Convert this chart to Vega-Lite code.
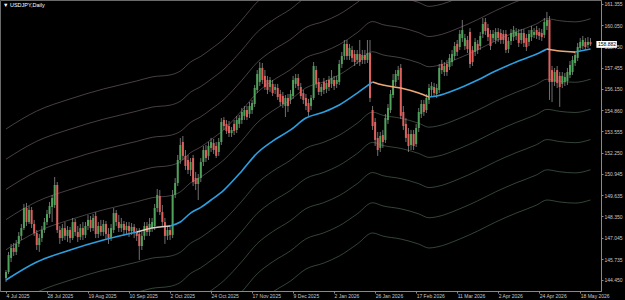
{
"$schema": "https://vega.github.io/schema/vega-lite/v6.json",
"width": 601, "height": 291, "autosize": "none", "padding": {"left": 0, "top": 0, "right": 24, "bottom": 9},
"background": "#000000",
"title": {"text": "▼ USDJPY,Daily", "anchor": "start", "frame": "group", "orient": "top", "offset": -8, "dx": 3, "fontSize": 5.5, "fontWeight": "normal", "font": "Liberation Sans", "color": "#ffffff"},
"datasets": {
"candles": [
{"i":0,"o":144.57,"h":145.06,"l":144.33,"c":144.94},
{"i":1,"o":144.94,"h":146.17,"l":144.82,"c":145.98},
{"i":2,"o":145.80,"h":146.66,"l":145.55,"c":146.41},
{"i":3,"o":146.41,"h":146.72,"l":145.92,"c":146.17},
{"i":4,"o":146.17,"h":146.90,"l":145.98,"c":146.66},
{"i":5,"o":146.66,"h":147.39,"l":146.47,"c":147.15},
{"i":6,"o":147.15,"h":147.88,"l":146.90,"c":147.63},
{"i":7,"o":147.63,"h":149.11,"l":147.51,"c":148.86},
{"i":8,"o":148.86,"h":149.17,"l":147.76,"c":148.00},
{"i":9,"o":148.00,"h":148.98,"l":147.88,"c":148.74},
{"i":10,"o":148.74,"h":148.92,"l":147.63,"c":147.88},
{"i":11,"o":147.88,"h":148.13,"l":147.15,"c":147.33},
{"i":12,"o":147.33,"h":147.51,"l":146.29,"c":146.59},
{"i":13,"o":146.59,"h":147.27,"l":146.17,"c":147.02},
{"i":14,"o":147.02,"h":147.76,"l":146.78,"c":147.51},
{"i":15,"o":147.51,"h":148.25,"l":147.33,"c":148.00},
{"i":16,"o":148.00,"h":148.74,"l":147.82,"c":148.49},
{"i":17,"o":148.49,"h":149.23,"l":148.25,"c":148.98},
{"i":18,"o":148.92,"h":149.66,"l":148.00,"c":149.47},
{"i":19,"o":149.04,"h":150.76,"l":148.86,"c":150.27},
{"i":20,"o":150.27,"h":150.45,"l":147.33,"c":147.51},
{"i":21,"o":147.51,"h":147.76,"l":146.66,"c":147.02},
{"i":22,"o":147.02,"h":147.88,"l":146.84,"c":147.63},
{"i":23,"o":147.63,"h":148.00,"l":146.90,"c":147.15},
{"i":24,"o":147.15,"h":147.76,"l":146.78,"c":147.51},
{"i":25,"o":147.51,"h":147.70,"l":146.72,"c":147.02},
{"i":26,"o":147.02,"h":148.25,"l":146.90,"c":148.00},
{"i":27,"o":148.00,"h":148.19,"l":147.15,"c":147.39},
{"i":28,"o":147.39,"h":147.76,"l":146.78,"c":147.08},
{"i":29,"o":147.08,"h":147.88,"l":146.90,"c":147.63},
{"i":30,"o":147.63,"h":148.00,"l":146.90,"c":147.21},
{"i":31,"o":147.21,"h":148.00,"l":147.02,"c":147.76},
{"i":32,"o":147.76,"h":148.43,"l":147.51,"c":148.13},
{"i":33,"o":148.13,"h":148.37,"l":147.39,"c":147.63},
{"i":34,"o":147.63,"h":148.49,"l":147.45,"c":148.25},
{"i":35,"o":148.37,"h":148.61,"l":147.02,"c":147.27},
{"i":36,"o":147.27,"h":148.00,"l":147.02,"c":147.76},
{"i":37,"o":147.76,"h":148.13,"l":147.15,"c":147.39},
{"i":38,"o":147.39,"h":148.13,"l":147.15,"c":147.88},
{"i":39,"o":147.88,"h":148.06,"l":146.90,"c":147.27},
{"i":40,"o":147.27,"h":147.63,"l":146.66,"c":147.02},
{"i":41,"o":147.02,"h":147.88,"l":146.84,"c":147.63},
{"i":42,"o":147.51,"h":148.86,"l":147.33,"c":148.55},
{"i":43,"o":148.55,"h":148.74,"l":147.76,"c":148.00},
{"i":44,"o":148.00,"h":148.43,"l":147.39,"c":147.63},
{"i":45,"o":147.63,"h":148.25,"l":147.39,"c":147.88},
{"i":46,"o":147.88,"h":148.06,"l":147.15,"c":147.51},
{"i":47,"o":147.51,"h":148.00,"l":147.27,"c":147.76},
{"i":48,"o":147.76,"h":148.00,"l":147.08,"c":147.45},
{"i":49,"o":147.45,"h":147.94,"l":147.21,"c":147.70},
{"i":50,"o":147.70,"h":147.88,"l":147.02,"c":147.39},
{"i":51,"o":147.39,"h":147.63,"l":146.84,"c":147.15},
{"i":52,"o":147.27,"h":147.63,"l":145.68,"c":146.53},
{"i":53,"o":146.53,"h":147.39,"l":146.29,"c":147.15},
{"i":54,"o":147.15,"h":148.00,"l":146.90,"c":147.76},
{"i":55,"o":147.76,"h":148.00,"l":147.15,"c":147.39},
{"i":56,"o":147.39,"h":148.25,"l":147.15,"c":147.88},
{"i":57,"o":147.63,"h":148.25,"l":147.39,"c":148.00},
{"i":58,"o":147.76,"h":149.11,"l":147.51,"c":148.86},
{"i":59,"o":148.86,"h":150.02,"l":148.61,"c":149.66},
{"i":60,"o":149.60,"h":149.96,"l":148.43,"c":148.61},
{"i":61,"o":148.61,"h":149.04,"l":147.76,"c":148.00},
{"i":62,"o":148.00,"h":148.25,"l":146.66,"c":147.15},
{"i":63,"o":147.15,"h":147.76,"l":146.90,"c":147.51},
{"i":64,"o":147.51,"h":147.82,"l":146.90,"c":147.21},
{"i":65,"o":147.21,"h":149.96,"l":147.02,"c":149.66},
{"i":66,"o":149.66,"h":150.70,"l":149.47,"c":150.39},
{"i":67,"o":150.39,"h":152.11,"l":150.21,"c":151.80},
{"i":68,"o":151.80,"h":153.15,"l":151.56,"c":152.72},
{"i":69,"o":152.90,"h":153.27,"l":151.80,"c":152.05},
{"i":70,"o":152.05,"h":152.41,"l":151.19,"c":151.43},
{"i":71,"o":151.80,"h":152.11,"l":150.94,"c":151.19},
{"i":72,"o":151.19,"h":151.92,"l":150.82,"c":151.68},
{"i":73,"o":151.92,"h":152.11,"l":150.21,"c":150.45},
{"i":74,"o":150.70,"h":151.07,"l":149.96,"c":150.33},
{"i":75,"o":150.33,"h":150.94,"l":149.35,"c":150.70},
{"i":76,"o":150.70,"h":151.92,"l":150.45,"c":151.68},
{"i":77,"o":151.68,"h":152.66,"l":151.43,"c":152.41},
{"i":78,"o":152.41,"h":152.72,"l":151.68,"c":151.92},
{"i":79,"o":152.05,"h":152.90,"l":151.80,"c":152.66},
{"i":80,"o":152.54,"h":153.15,"l":152.29,"c":152.90},
{"i":81,"o":152.84,"h":153.09,"l":152.17,"c":152.41},
{"i":82,"o":152.66,"h":152.90,"l":151.92,"c":152.05},
{"i":83,"o":152.29,"h":153.15,"l":152.05,"c":152.90},
{"i":84,"o":152.90,"h":154.37,"l":152.72,"c":154.13},
{"i":85,"o":154.25,"h":154.43,"l":153.64,"c":153.88},
{"i":86,"o":154.01,"h":154.25,"l":153.39,"c":153.58},
{"i":87,"o":153.88,"h":154.19,"l":153.21,"c":153.45},
{"i":88,"o":153.45,"h":153.82,"l":153.21,"c":153.64},
{"i":89,"o":154.01,"h":154.25,"l":153.33,"c":153.58},
{"i":90,"o":153.64,"h":154.50,"l":153.45,"c":154.25},
{"i":91,"o":154.01,"h":154.56,"l":153.76,"c":154.37},
{"i":92,"o":154.25,"h":154.99,"l":154.01,"c":154.74},
{"i":93,"o":154.50,"h":155.11,"l":154.25,"c":154.86},
{"i":94,"o":154.86,"h":155.11,"l":154.25,"c":154.43},
{"i":95,"o":154.62,"h":155.35,"l":154.37,"c":155.11},
{"i":96,"o":154.86,"h":155.48,"l":154.62,"c":155.29},
{"i":97,"o":155.23,"h":156.39,"l":155.05,"c":156.21},
{"i":98,"o":156.09,"h":157.31,"l":155.90,"c":157.07},
{"i":99,"o":156.58,"h":157.80,"l":156.33,"c":157.44},
{"i":100,"o":157.44,"h":157.74,"l":156.46,"c":156.70},
{"i":101,"o":156.95,"h":157.31,"l":156.09,"c":156.27},
{"i":102,"o":156.70,"h":156.95,"l":155.84,"c":156.09},
{"i":103,"o":156.27,"h":156.88,"l":155.97,"c":156.70},
{"i":104,"o":156.46,"h":156.70,"l":155.72,"c":155.90},
{"i":105,"o":156.09,"h":156.46,"l":155.84,"c":156.27},
{"i":106,"o":156.21,"h":156.46,"l":155.48,"c":155.66},
{"i":107,"o":155.84,"h":156.09,"l":155.11,"c":155.35},
{"i":108,"o":155.72,"h":155.97,"l":154.99,"c":155.23},
{"i":109,"o":155.11,"h":155.78,"l":154.43,"c":155.60},
{"i":110,"o":155.60,"h":155.84,"l":154.74,"c":155.11},
{"i":111,"o":155.48,"h":156.09,"l":155.23,"c":155.84},
{"i":112,"o":155.72,"h":156.95,"l":155.54,"c":156.70},
{"i":113,"o":156.46,"h":157.07,"l":156.21,"c":156.82},
{"i":114,"o":156.82,"h":157.07,"l":156.09,"c":156.33},
{"i":115,"o":156.27,"h":156.52,"l":155.54,"c":155.72},
{"i":116,"o":155.90,"h":156.09,"l":155.23,"c":155.48},
{"i":117,"o":155.60,"h":155.84,"l":154.86,"c":155.11},
{"i":118,"o":155.29,"h":155.54,"l":154.50,"c":154.74},
{"i":119,"o":155.11,"h":155.78,"l":154.86,"c":155.60},
{"i":120,"o":155.60,"h":157.80,"l":155.48,"c":157.56},
{"i":121,"o":157.31,"h":157.56,"l":156.21,"c":156.46},
{"i":122,"o":156.58,"h":156.82,"l":155.78,"c":155.97},
{"i":123,"o":155.97,"h":156.46,"l":155.72,"c":156.27},
{"i":124,"o":156.58,"h":156.82,"l":155.84,"c":156.09},
{"i":125,"o":156.15,"h":156.70,"l":155.90,"c":156.52},
{"i":126,"o":156.70,"h":156.95,"l":156.03,"c":156.27},
{"i":127,"o":156.46,"h":157.31,"l":156.21,"c":156.82},
{"i":128,"o":156.70,"h":156.95,"l":156.09,"c":156.33},
{"i":129,"o":156.46,"h":156.95,"l":156.21,"c":156.70},
{"i":130,"o":156.58,"h":157.93,"l":156.39,"c":157.68},
{"i":131,"o":157.68,"h":158.42,"l":157.44,"c":158.17},
{"i":132,"o":158.17,"h":159.15,"l":157.93,"c":158.91},
{"i":133,"o":158.91,"h":159.15,"l":157.93,"c":158.17},
{"i":134,"o":158.17,"h":158.91,"l":157.93,"c":158.66},
{"i":135,"o":158.54,"h":158.78,"l":157.80,"c":158.05},
{"i":136,"o":158.29,"h":158.54,"l":157.56,"c":157.80},
{"i":137,"o":157.93,"h":158.54,"l":157.68,"c":158.29},
{"i":138,"o":158.29,"h":159.15,"l":157.56,"c":157.80},
{"i":139,"o":157.93,"h":158.54,"l":157.68,"c":158.23},
{"i":140,"o":158.23,"h":158.54,"l":157.68,"c":157.93},
{"i":141,"o":157.93,"h":159.15,"l":157.74,"c":158.35},
{"i":142,"o":158.35,"h":159.15,"l":155.35,"c":155.60},
{"i":143,"o":154.86,"h":155.11,"l":153.64,"c":153.88},
{"i":144,"o":154.13,"h":154.37,"l":152.66,"c":153.03},
{"i":145,"o":153.15,"h":153.52,"l":152.05,"c":152.41},
{"i":146,"o":152.54,"h":153.52,"l":152.29,"c":153.27},
{"i":147,"o":153.33,"h":153.64,"l":152.54,"c":152.90},
{"i":148,"o":153.03,"h":154.62,"l":152.84,"c":154.37},
{"i":149,"o":154.25,"h":155.23,"l":154.01,"c":154.99},
{"i":150,"o":154.86,"h":156.09,"l":154.68,"c":155.84},
{"i":151,"o":155.78,"h":157.07,"l":155.60,"c":156.70},
{"i":152,"o":156.58,"h":157.31,"l":156.33,"c":157.07},
{"i":153,"o":156.95,"h":157.56,"l":156.70,"c":157.31},
{"i":154,"o":157.44,"h":157.68,"l":154.31,"c":154.50},
{"i":155,"o":154.74,"h":155.11,"l":153.64,"c":153.88},
{"i":156,"o":154.01,"h":154.37,"l":152.90,"c":153.15},
{"i":157,"o":153.39,"h":153.76,"l":152.29,"c":152.66},
{"i":158,"o":152.72,"h":153.64,"l":152.41,"c":153.39},
{"i":159,"o":153.39,"h":153.64,"l":152.41,"c":152.66},
{"i":160,"o":152.78,"h":154.01,"l":152.60,"c":153.76},
{"i":161,"o":153.76,"h":154.99,"l":153.52,"c":154.74},
{"i":162,"o":154.62,"h":155.48,"l":154.37,"c":155.23},
{"i":163,"o":155.23,"h":155.48,"l":154.50,"c":154.74},
{"i":164,"o":154.86,"h":155.84,"l":154.68,"c":155.60},
{"i":165,"o":155.48,"h":156.46,"l":155.23,"c":156.21},
{"i":166,"o":156.09,"h":156.58,"l":155.72,"c":156.33},
{"i":167,"o":156.27,"h":156.52,"l":155.66,"c":155.90},
{"i":168,"o":155.84,"h":156.46,"l":155.60,"c":156.21},
{"i":169,"o":156.09,"h":157.68,"l":155.90,"c":157.44},
{"i":170,"o":157.68,"h":157.93,"l":157.07,"c":157.31},
{"i":171,"o":157.19,"h":157.80,"l":156.95,"c":157.56},
{"i":172,"o":157.68,"h":157.93,"l":156.95,"c":157.19},
{"i":173,"o":157.50,"h":158.29,"l":157.31,"c":158.05},
{"i":174,"o":157.80,"h":158.54,"l":157.56,"c":158.29},
{"i":175,"o":158.17,"h":159.03,"l":157.93,"c":158.78},
{"i":176,"o":158.91,"h":159.15,"l":158.17,"c":158.42},
{"i":177,"o":158.72,"h":159.76,"l":158.54,"c":159.52},
{"i":178,"o":159.27,"h":160.38,"l":159.03,"c":159.76},
{"i":179,"o":158.78,"h":159.52,"l":158.54,"c":159.27},
{"i":180,"o":159.15,"h":159.40,"l":158.35,"c":158.60},
{"i":181,"o":159.64,"h":159.88,"l":157.44,"c":157.68},
{"i":182,"o":158.54,"h":158.78,"l":157.56,"c":157.80},
{"i":183,"o":158.42,"h":159.27,"l":158.17,"c":159.03},
{"i":184,"o":158.91,"h":159.15,"l":158.29,"c":158.54},
{"i":185,"o":158.78,"h":159.64,"l":158.54,"c":159.40},
{"i":186,"o":159.52,"h":160.50,"l":159.27,"c":160.13},
{"i":187,"o":160.25,"h":160.50,"l":159.46,"c":159.70},
{"i":188,"o":159.88,"h":160.13,"l":159.09,"c":159.33},
{"i":189,"o":159.52,"h":159.76,"l":158.54,"c":158.78},
{"i":190,"o":159.27,"h":159.76,"l":159.03,"c":159.52},
{"i":191,"o":159.15,"h":159.88,"l":158.91,"c":159.64},
{"i":192,"o":159.64,"h":159.88,"l":159.03,"c":159.27},
{"i":193,"o":159.58,"h":159.82,"l":158.91,"c":159.15},
{"i":194,"o":159.52,"h":159.76,"l":158.91,"c":159.15},
{"i":195,"o":159.52,"h":159.76,"l":158.35,"c":158.54},
{"i":196,"o":158.60,"h":159.33,"l":158.35,"c":159.09},
{"i":197,"o":159.09,"h":159.82,"l":158.84,"c":159.58},
{"i":198,"o":159.33,"h":160.01,"l":159.09,"c":159.76},
{"i":199,"o":159.40,"h":159.88,"l":159.15,"c":159.64},
{"i":200,"o":159.58,"h":159.82,"l":158.72,"c":158.97},
{"i":201,"o":159.15,"h":159.82,"l":158.91,"c":159.58},
{"i":202,"o":159.58,"h":159.82,"l":158.72,"c":158.97},
{"i":203,"o":159.27,"h":159.52,"l":158.48,"c":158.72},
{"i":204,"o":159.03,"h":159.76,"l":158.78,"c":159.52},
{"i":205,"o":159.33,"h":160.01,"l":159.09,"c":159.76},
{"i":206,"o":159.46,"h":159.88,"l":159.27,"c":159.64},
{"i":207,"o":159.76,"h":160.01,"l":159.21,"c":159.46},
{"i":208,"o":159.64,"h":159.88,"l":159.15,"c":159.40},
{"i":209,"o":159.58,"h":159.82,"l":159.09,"c":159.33},
{"i":210,"o":159.46,"h":160.50,"l":159.27,"c":160.25},
{"i":211,"o":160.01,"h":160.87,"l":159.76,"c":160.38},
{"i":212,"o":160.38,"h":160.62,"l":155.48,"c":156.58},
{"i":213,"o":157.31,"h":157.56,"l":155.35,"c":156.58},
{"i":214,"o":156.58,"h":157.44,"l":156.33,"c":157.19},
{"i":215,"o":157.31,"h":157.56,"l":156.21,"c":156.52},
{"i":216,"o":156.95,"h":157.19,"l":155.05,"c":156.27},
{"i":217,"o":156.46,"h":157.19,"l":156.21,"c":156.95},
{"i":218,"o":156.58,"h":157.13,"l":156.33,"c":156.88},
{"i":219,"o":156.64,"h":157.44,"l":156.39,"c":157.19},
{"i":220,"o":157.01,"h":157.86,"l":156.82,"c":157.62},
{"i":221,"o":157.19,"h":158.17,"l":157.01,"c":157.93},
{"i":222,"o":157.74,"h":158.48,"l":157.56,"c":158.23},
{"i":223,"o":158.05,"h":158.97,"l":157.86,"c":158.72},
{"i":224,"o":158.66,"h":159.27,"l":158.48,"c":159.03},
{"i":225,"o":158.78,"h":159.40,"l":158.60,"c":159.15},
{"i":226,"o":159.03,"h":159.27,"l":158.54,"c":158.72},
{"i":227,"o":158.84,"h":159.33,"l":158.66,"c":159.03},
{"i":228,"o":159.03,"h":159.27,"l":158.78,"c":158.882}
],
"ma": [
{"i":0,"ma":144.45,"seg":"a","col":"#2b9fe0"},
{"i":12,"ma":145.55,"seg":"a","col":"#2b9fe0"},
{"i":25,"ma":146.29,"seg":"a","col":"#2b9fe0"},
{"i":38,"ma":146.90,"seg":"a","col":"#2b9fe0"},
{"i":51,"ma":147.39,"seg":"a","col":"#2b9fe0"},
{"i":51,"ma":147.39,"seg":"b","col":"#d8cfc4"},
{"i":57,"ma":147.64,"seg":"b","col":"#d8cfc4"},
{"i":64,"ma":147.76,"seg":"b","col":"#d8cfc4"},
{"i":64,"ma":147.76,"seg":"c","col":"#2b9fe0"},
{"i":68,"ma":148.00,"seg":"c","col":"#2b9fe0"},
{"i":72,"ma":148.55,"seg":"c","col":"#2b9fe0"},
{"i":76,"ma":148.90,"seg":"c","col":"#2b9fe0"},
{"i":80,"ma":149.35,"seg":"c","col":"#2b9fe0"},
{"i":85,"ma":149.96,"seg":"c","col":"#2b9fe0"},
{"i":92,"ma":151.13,"seg":"c","col":"#2b9fe0"},
{"i":98,"ma":152.23,"seg":"c","col":"#2b9fe0"},
{"i":104,"ma":152.96,"seg":"c","col":"#2b9fe0"},
{"i":111,"ma":153.64,"seg":"c","col":"#2b9fe0"},
{"i":117,"ma":154.37,"seg":"c","col":"#2b9fe0"},
{"i":124,"ma":154.74,"seg":"c","col":"#2b9fe0"},
{"i":130,"ma":155.17,"seg":"c","col":"#2b9fe0"},
{"i":137,"ma":155.90,"seg":"c","col":"#2b9fe0"},
{"i":143,"ma":156.58,"seg":"c","col":"#2b9fe0"},
{"i":143,"ma":156.58,"seg":"d","col":"#eea878"},
{"i":147,"ma":156.39,"seg":"d","col":"#eea878"},
{"i":154,"ma":156.21,"seg":"d","col":"#eea878"},
{"i":161,"ma":155.90,"seg":"d","col":"#eea878"},
{"i":165,"ma":155.66,"seg":"d","col":"#eea878"},
{"i":165,"ma":155.66,"seg":"e","col":"#2b9fe0"},
{"i":168,"ma":155.72,"seg":"e","col":"#2b9fe0"},
{"i":177,"ma":156.21,"seg":"e","col":"#2b9fe0"},
{"i":184,"ma":156.70,"seg":"e","col":"#2b9fe0"},
{"i":191,"ma":157.25,"seg":"e","col":"#2b9fe0"},
{"i":199,"ma":157.80,"seg":"e","col":"#2b9fe0"},
{"i":207,"ma":158.29,"seg":"e","col":"#2b9fe0"},
{"i":211,"ma":158.60,"seg":"e","col":"#2b9fe0"},
{"i":211,"ma":158.60,"seg":"f","col":"#eea878"},
{"i":216,"ma":158.48,"seg":"f","col":"#eea878"},
{"i":222,"ma":158.41,"seg":"f","col":"#eea878"},
{"i":222,"ma":158.41,"seg":"g","col":"#2b9fe0"},
{"i":228,"ma":158.60,"seg":"g","col":"#2b9fe0"}
],
"bands": [
{"i":0,"u1":146.30,"u2":148.15,"u3":150.00,"u4":151.85,"u5":153.70,"d1":142.60,"d2":140.75,"d3":138.90,"d4":137.05,"d5":135.20},
{"i":12,"u1":147.40,"u2":149.25,"u3":151.10,"u4":152.95,"u5":154.80,"d1":143.70,"d2":141.85,"d3":140.00,"d4":138.15,"d5":136.30},
{"i":25,"u1":148.14,"u2":149.99,"u3":151.84,"u4":153.69,"u5":155.54,"d1":144.44,"d2":142.59,"d3":140.74,"d4":138.89,"d5":137.04},
{"i":38,"u1":148.75,"u2":150.60,"u3":152.45,"u4":154.30,"u5":156.15,"d1":145.05,"d2":143.20,"d3":141.35,"d4":139.50,"d5":137.65},
{"i":51,"u1":149.24,"u2":151.09,"u3":152.94,"u4":154.79,"u5":156.64,"d1":145.54,"d2":143.69,"d3":141.84,"d4":139.99,"d5":138.14},
{"i":57,"u1":149.49,"u2":151.34,"u3":153.19,"u4":155.04,"u5":156.89,"d1":145.79,"d2":143.94,"d3":142.09,"d4":140.24,"d5":138.39},
{"i":64,"u1":149.61,"u2":151.46,"u3":153.31,"u4":155.16,"u5":157.01,"d1":145.91,"d2":144.06,"d3":142.21,"d4":140.36,"d5":138.51},
{"i":68,"u1":149.85,"u2":151.70,"u3":153.55,"u4":155.40,"u5":157.25,"d1":146.15,"d2":144.30,"d3":142.45,"d4":140.60,"d5":138.75},
{"i":72,"u1":150.40,"u2":152.25,"u3":154.10,"u4":155.95,"u5":157.80,"d1":146.70,"d2":144.85,"d3":143.00,"d4":141.15,"d5":139.30},
{"i":76,"u1":150.75,"u2":152.60,"u3":154.45,"u4":156.30,"u5":158.15,"d1":147.05,"d2":145.20,"d3":143.35,"d4":141.50,"d5":139.65},
{"i":80,"u1":151.20,"u2":153.05,"u3":154.90,"u4":156.75,"u5":158.60,"d1":147.50,"d2":145.65,"d3":143.80,"d4":141.95,"d5":140.10},
{"i":85,"u1":151.81,"u2":153.66,"u3":155.51,"u4":157.36,"u5":159.21,"d1":148.11,"d2":146.26,"d3":144.41,"d4":142.56,"d5":140.71},
{"i":92,"u1":152.98,"u2":154.83,"u3":156.68,"u4":158.53,"u5":160.38,"d1":149.28,"d2":147.43,"d3":145.58,"d4":143.73,"d5":141.88},
{"i":98,"u1":154.08,"u2":155.93,"u3":157.78,"u4":159.63,"u5":161.48,"d1":150.38,"d2":148.53,"d3":146.68,"d4":144.83,"d5":142.98},
{"i":104,"u1":154.81,"u2":156.66,"u3":158.51,"u4":160.36,"u5":162.21,"d1":151.11,"d2":149.26,"d3":147.41,"d4":145.56,"d5":143.71},
{"i":111,"u1":155.49,"u2":157.34,"u3":159.19,"u4":161.04,"u5":162.89,"d1":151.79,"d2":149.94,"d3":148.09,"d4":146.24,"d5":144.39},
{"i":117,"u1":156.22,"u2":158.07,"u3":159.92,"u4":161.77,"u5":163.62,"d1":152.52,"d2":150.67,"d3":148.82,"d4":146.97,"d5":145.12},
{"i":124,"u1":156.59,"u2":158.44,"u3":160.29,"u4":162.14,"u5":163.99,"d1":152.89,"d2":151.04,"d3":149.19,"d4":147.34,"d5":145.49},
{"i":130,"u1":157.02,"u2":158.87,"u3":160.72,"u4":162.57,"u5":164.42,"d1":153.32,"d2":151.47,"d3":149.62,"d4":147.77,"d5":145.92},
{"i":137,"u1":157.75,"u2":159.60,"u3":161.45,"u4":163.30,"u5":165.15,"d1":154.05,"d2":152.20,"d3":150.35,"d4":148.50,"d5":146.65},
{"i":143,"u1":158.43,"u2":160.28,"u3":162.13,"u4":163.98,"u5":165.83,"d1":154.73,"d2":152.88,"d3":151.03,"d4":149.18,"d5":147.33},
{"i":147,"u1":158.24,"u2":160.09,"u3":161.94,"u4":163.79,"u5":165.64,"d1":154.54,"d2":152.69,"d3":150.84,"d4":148.99,"d5":147.14},
{"i":154,"u1":158.06,"u2":159.91,"u3":161.76,"u4":163.61,"u5":165.46,"d1":154.36,"d2":152.51,"d3":150.66,"d4":148.81,"d5":146.96},
{"i":161,"u1":157.75,"u2":159.60,"u3":161.45,"u4":163.30,"u5":165.15,"d1":154.05,"d2":152.20,"d3":150.35,"d4":148.50,"d5":146.65},
{"i":165,"u1":157.51,"u2":159.36,"u3":161.21,"u4":163.06,"u5":164.91,"d1":153.81,"d2":151.96,"d3":150.11,"d4":148.26,"d5":146.41},
{"i":168,"u1":157.57,"u2":159.42,"u3":161.27,"u4":163.12,"u5":164.97,"d1":153.87,"d2":152.02,"d3":150.17,"d4":148.32,"d5":146.47},
{"i":177,"u1":158.06,"u2":159.91,"u3":161.76,"u4":163.61,"u5":165.46,"d1":154.36,"d2":152.51,"d3":150.66,"d4":148.81,"d5":146.96},
{"i":184,"u1":158.55,"u2":160.40,"u3":162.25,"u4":164.10,"u5":165.95,"d1":154.85,"d2":153.00,"d3":151.15,"d4":149.30,"d5":147.45},
{"i":191,"u1":159.10,"u2":160.95,"u3":162.80,"u4":164.65,"u5":166.50,"d1":155.40,"d2":153.55,"d3":151.70,"d4":149.85,"d5":148.00},
{"i":199,"u1":159.65,"u2":161.50,"u3":163.35,"u4":165.20,"u5":167.05,"d1":155.95,"d2":154.10,"d3":152.25,"d4":150.40,"d5":148.55},
{"i":207,"u1":160.14,"u2":161.99,"u3":163.84,"u4":165.69,"u5":167.54,"d1":156.44,"d2":154.59,"d3":152.74,"d4":150.89,"d5":149.04},
{"i":211,"u1":160.45,"u2":162.30,"u3":164.15,"u4":166.00,"u5":167.85,"d1":156.75,"d2":154.90,"d3":153.05,"d4":151.20,"d5":149.35},
{"i":216,"u1":160.33,"u2":162.18,"u3":164.03,"u4":165.88,"u5":167.73,"d1":156.63,"d2":154.78,"d3":152.93,"d4":151.08,"d5":149.23},
{"i":222,"u1":160.26,"u2":162.11,"u3":163.96,"u4":165.81,"u5":167.66,"d1":156.56,"d2":154.71,"d3":152.86,"d4":151.01,"d5":149.16},
{"i":228,"u1":160.45,"u2":162.30,"u3":164.15,"u4":166.00,"u5":167.85,"d1":156.75,"d2":154.90,"d3":153.05,"d4":151.20,"d5":149.35}
],
"last": [{"p":158.882,"t":"158.882"}]
},
"layer": [
{
"data": {"name": "bands"},
"transform": [{"fold": ["u1","u2","u3","u4","u5","d1","d2","d3","d4","d5"], "as": ["key","value"]}],
"mark": {"type": "line", "strokeWidth": 0.7, "clip": true, "interpolate": "monotone", "opacity": 0.8},
"encoding": {
"x": {"field": "i", "type": "quantitative", "title": null,
"scale": {"domain": [-0.38, 230.15], "nice": false, "zero": false},
"axis": {"values": [0,16,32,48,64,80,96,112,128,144,160,176,192,208,224], "tickCount": 40,
"labelExpr": "['4 Jul 2025','28 Jul 2025','19 Aug 2025','10 Sep 2025','2 Oct 2025','24 Oct 2025','17 Nov 2025','9 Dec 2025','2 Jan 2026','26 Jan 2026','17 Feb 2026','11 Mar 2026','2 Apr 2026','24 Apr 2026','18 May 2026'][round(datum.value/16)]",
"labelAlign": "left", "labelBaseline": "top", "labelPadding": 0, "labelOverlap": false, "labelFlush": false, "labelBound": false, "tickSize": 2, "grid": false}},
"y": {"field": "value", "type": "quantitative", "title": null,
"scale": {"domain": [143.776, 161.6], "nice": false, "zero": false},
"axis": {"orient": "right", "values": [161.355,160.05,158.75,157.455,156.15,154.86,153.555,152.25,150.945,149.635,148.35,147.045,145.735,144.45], "tickCount": 40,
"format": ".3f", "labelOverlap": false, "labelSeparation": 0, "labelFlush": false, "labelBound": false, "labelPadding": 1, "tickSize": 2, "grid": false}},
"detail": {"field": "key"},
"color": {"field": "key", "type": "nominal", "legend": null,
"scale": {"domain": ["u1","u2","u3","u4","u5","d1","d2","d3","d4","d5"],
"range": ["#7a7478","#7f7078","#83727a","#7f7078","#83727a","#62786a","#5c7a62","#5c7a62","#5c7a62","#5c7a62"]}}
}
},
{
"data": {"name": "candles"},
"mark": {"type": "rule", "strokeWidth": 0.7, "color": "#a0a0a0"},
"encoding": {
"x": {"field": "i", "type": "quantitative", "title": null, "scale": {"domain": [-0.38, 230.15], "nice": false, "zero": false}},
"y": {"field": "l", "type": "quantitative", "title": null, "scale": {"domain": [143.776, 161.6], "nice": false, "zero": false}},
"y2": {"field": "h"}
}
},
{
"data": {"name": "candles"},
"mark": {"type": "bar", "size": 2},
"encoding": {
"x": {"field": "i", "type": "quantitative", "title": null, "scale": {"domain": [-0.38, 230.15], "nice": false, "zero": false}},
"y": {"field": "o", "type": "quantitative", "title": null, "scale": {"domain": [143.776, 161.6], "nice": false, "zero": false}},
"y2": {"field": "c"},
"color": {"condition": {"test": "datum.c >= datum.o", "value": "#4fa35a"}, "value": "#e0605e"}
}
},
{
"data": {"name": "ma"},
"mark": {"type": "line", "strokeWidth": 1.6, "clip": true, "interpolate": "monotone"},
"encoding": {
"x": {"field": "i", "type": "quantitative", "title": null, "scale": {"domain": [-0.38, 230.15], "nice": false, "zero": false}},
"y": {"field": "ma", "type": "quantitative", "title": null, "scale": {"domain": [143.776, 161.6], "nice": false, "zero": false}},
"detail": {"field": "seg"},
"color": {"field": "col", "type": "nominal", "scale": null}
}
},
{
"data": {"name": "last"},
"mark": {"type": "rect", "fill": "#ffffff"},
"encoding": {
"x": {"datum": 230.3, "type": "quantitative"},
"x2": {"datum": 238.3},
"y": {"datum": 158.67, "type": "quantitative"},
"y2": {"datum": 159.09}
}
},
{
"data": {"name": "last"},
"mark": {"type": "text", "align": "left", "baseline": "middle", "fontSize": 5, "font": "Liberation Sans", "color": "#000000"},
"encoding": {
"x": {"datum": 230.9, "type": "quantitative"},
"y": {"field": "p", "type": "quantitative", "title": null},
"text": {"field": "t"}
}
}
],
"config": {
"view": {"stroke": "#6a6a6a", "fill": "#000000"},
"axis": {"grid": false, "labelOverlap": false, "labelSeparation": 0, "domainColor": "#8a8a8a", "tickColor": "#8a8a8a", "labelColor": "#c8c8c8", "labelFont": "Liberation Sans", "labelFontSize": 5, "titleColor": "#c8c8c8"}
}
}
